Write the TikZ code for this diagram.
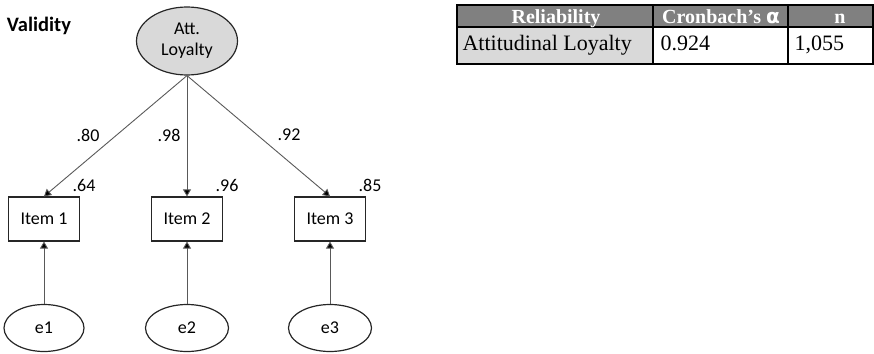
\documentclass[tikz,border=0pt]{standalone}
\usepackage{fontspec}
\setmainfont{Liberation Serif}
\newfontfamily\calibri{Carlito}
\newfontfamily\greekfont{DejaVu Sans}
\usetikzlibrary{shapes.geometric, arrows.meta}

\definecolor{fillgray}{RGB}{217,217,217}
\definecolor{headgray}{RGB}{128,128,128}

\tikzset{
  diag/.style={font=\calibri\fontsize{18}{20}\selectfont},
  latent/.style={ellipse, draw=black!85, line width=1.2pt, inner sep=0pt, diag},
  itembox/.style={rectangle, draw=black!85, line width=1.2pt, minimum width=71pt, minimum height=44pt, inner sep=0pt, diag},
  loading/.style={draw=black!65, line width=0.9pt, -{Triangle[length=7pt,width=8pt,fill=black]}},
  headtxt/.style={anchor=base, text=white, font=\bfseries\fontsize{20}{22}\selectfont},
  celltxt/.style={anchor=base west, font=\fontsize{22}{24}\selectfont}
}

\begin{document}
\begin{tikzpicture}[x=1pt,y=-1pt]
\useasboundingbox (0,0) rectangle (874,353);

% Title
\node[font=\calibri\bfseries\fontsize{20.5}{22}\selectfont] (title) at (39,26) {Validity};

% Latent factor
\node[latent, fill=fillgray, minimum width=101pt, minimum height=68pt, align=center] (att) at (187,41) {Att.\\[1pt]Loyalty};

% Indicators
\node[itembox] (item1) at (44,219) {Item 1};
\node[itembox] (item2) at (187,219) {Item 2};
\node[itembox] (item3) at (330,219) {Item 3};

% Error terms
\node[latent, minimum width=80pt, minimum height=47pt] (e1) at (44,328) {e1};
\node[latent, minimum width=83pt, minimum height=47pt] (e2) at (187,328) {e2};
\node[latent, minimum width=83pt, minimum height=47pt] (e3) at (330,328) {e3};

% Loadings
\draw[loading] (att.south) -- (item1.north);
\draw[loading] (att.south) -- (item2.north);
\draw[loading] (att.south) -- (item3.north);
\draw[loading] (e1.north) -- (item1.south);
\draw[loading] (e2.north) -- (item2.south);
\draw[loading] (e3.north) -- (item3.south);

% Coefficients
\node[diag] (l1) at (88,135) {.80};
\node[diag] (l2) at (169,135) {.98};
\node[diag] (l3) at (289,135) {.92};
\node[diag] (r1) at (84,185) {.64};
\node[diag] (r2) at (227,185) {.96};
\node[diag] (r3) at (370,185) {.85};

% Reliability table
\fill[headgray] (457,5) rectangle (873,27);
\fill[fillgray] (457,27) rectangle (653,64);
\draw[line width=1.6pt] (457,5) rectangle (873,64);
\draw[line width=1.4pt] (457,27) -- (873,27);
\draw[line width=1.4pt] (653,5) -- (653,64);
\draw[line width=1.4pt] (788,5) -- (788,64);

\node[headtxt] (h1) at (556,24) {Reliability};
\node[headtxt] (h2) at (721,24) {Cronbach’s {\greekfont\bfseries α}};
\node[headtxt] (h3) at (840,24) {n};
\node[celltxt] (c1) at (459,50) {Attitudinal Loyalty};
\node[celltxt] (c2) at (657,50) {0.924};
\node[celltxt] (c3) at (791,50) {1,055};

\end{tikzpicture}
\end{document}
